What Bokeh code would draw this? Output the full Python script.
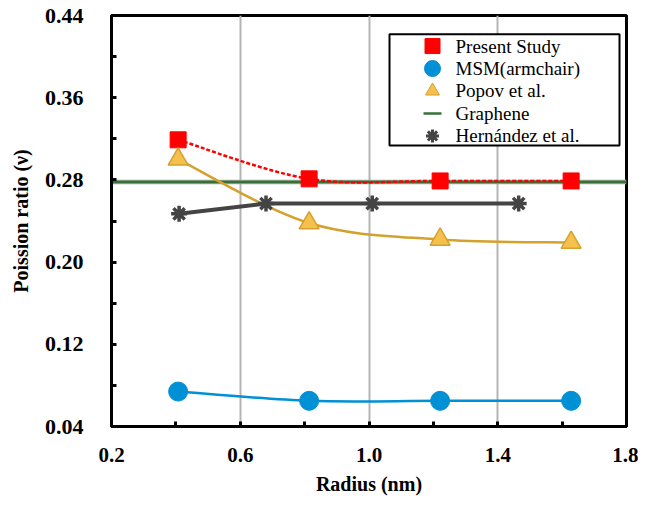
from bokeh.plotting import figure
from bokeh.models import FixedTicker, Range1d
from bokeh.core.properties import value
from bokeh.embed import file_html
from bokeh.resources import INLINE

# ---- data ----
radius = [0.407, 0.814, 1.221, 1.628]
present_study = [0.319, 0.281, 0.279, 0.279]
msm_armchair = [0.074, 0.065, 0.065, 0.065]
popov = [0.300, 0.238, 0.222, 0.219]
hernandez_x = [0.41, 0.68, 1.01, 1.465]
hernandez = [0.247, 0.257, 0.257, 0.257]
graphene = 0.278

legend_labels = ["Present Study", "MSM(armchair)", "Popov et al.", "Graphene", "Hernández et al."]

x_ticks = [0.2, 0.6, 1.0, 1.4, 1.8]
x_minor = [0.4, 0.8, 1.2, 1.6]
x_labels = ["0.2", "0.6", "1.0", "1.4", "1.8"]
y_ticks = [0.04, 0.12, 0.20, 0.28, 0.36, 0.44]
y_minor = [0.08, 0.16, 0.24, 0.32, 0.40]
y_labels = ["0.04", "0.12", "0.20", "0.28", "0.36", "0.44"]

FONT = "Liberation Serif"
RED, BLUE, GOLD_F, GOLD_L, GREEN, GREY = "#ff0000", "#0090d6", "#f5c04e", "#d4a22c", "#367236", "#444444"

W, H = 638, 497
ML, MR, MT, MB = 111, 12, 15, 65
FW, FH = W - ML - MR, H - MT - MB

p = figure(width=W, height=H, output_backend="svg", toolbar_location=None,
           x_range=Range1d(x_ticks[0], x_ticks[-1]), y_range=Range1d(y_ticks[0], y_ticks[-1]),
           min_border_left=ML, min_border_right=MR, min_border_top=MT, min_border_bottom=MB)
p.outline_line_color = "black"
p.outline_line_width = 3
p.background_fill_color = "white"
p.border_fill_color = "white"
p.extra_x_ranges = {"lx": Range1d(0, FW)}
p.extra_y_ranges = {"ly": Range1d(0, FH)}

for ax, ticks, minor, labels, fs in ((p.xaxis[0], x_ticks, x_minor, x_labels, "21px"),
                                     (p.yaxis[0], y_ticks, y_minor, y_labels, "22px")):
    ax.ticker = FixedTicker(ticks=ticks, minor_ticks=minor)
    ax.major_label_overrides = {t: l for t, l in zip(ticks, labels)}
    ax.major_tick_in = 5
    ax.major_tick_out = 0
    ax.minor_tick_in = 5
    ax.minor_tick_out = 0
    ax.major_tick_line_width = 3
    ax.minor_tick_line_width = 3
    ax.axis_line_width = 3
    ax.major_label_text_font = FONT
    ax.major_label_text_font_style = "bold"
    ax.major_label_text_font_size = fs
    ax.major_label_text_color = "black"
    ax.axis_label_text_font = FONT
    ax.axis_label_text_font_style = "bold"
    ax.axis_label_text_font_size = "20px"
    ax.axis_label_text_color = "black"

p.xaxis.axis_label = "Radius (nm)"
p.yaxis.axis_label = "Poission ratio (ν)"
p.xaxis.major_label_standoff = 21
p.yaxis.major_label_standoff = 28
p.xaxis.axis_label_standoff = 8
p.yaxis.axis_label_standoff = 10

p.xgrid.grid_line_color = "#b4b4b4"
p.xgrid.grid_line_width = 2
p.ygrid.grid_line_color = None


def smooth(xs, ys):
    """Excel-like smoothed bezier segments through the data points."""
    n = len(xs)
    out = {k: [] for k in ("x0", "y0", "x1", "y1", "cx0", "cy0", "cx1", "cy1")}
    for i in range(n - 1):
        im = max(i - 1, 0)
        ip2 = min(i + 2, n - 1)
        out["x0"].append(xs[i]); out["y0"].append(ys[i])
        out["x1"].append(xs[i + 1]); out["y1"].append(ys[i + 1])
        out["cx0"].append(xs[i] + (xs[i + 1] - xs[im]) / 6)
        out["cy0"].append(ys[i] + (ys[i + 1] - ys[im]) / 6)
        out["cx1"].append(xs[i + 1] - (xs[ip2] - xs[i]) / 6)
        out["cy1"].append(ys[i + 1] - (ys[ip2] - ys[i]) / 6)
    return out


# graphene reference line
p.line(x=[x_ticks[0], x_ticks[-1]], y=[graphene, graphene], line_color="#9aa89a", line_width=4.5)
p.line(x=[x_ticks[0], x_ticks[-1]], y=[graphene, graphene], line_color=GREEN, line_width=2.5)

# Present study
p.bezier(**smooth(radius, present_study), line_color=RED, line_width=2.5, line_dash="4 2")
p.scatter(radius, present_study, marker="square", size=16, fill_color=RED, line_color=RED)

# MSM
p.bezier(**smooth(radius, msm_armchair), line_color=BLUE, line_width=2.5)
p.scatter(radius, msm_armchair, marker="circle", size=19, fill_color=BLUE, line_color=BLUE)

# Popov
p.bezier(**smooth(radius, popov), line_color=GOLD_L, line_width=2.5)
p.scatter(radius, popov, marker="triangle", size=20, fill_color=GOLD_F, line_color=GOLD_L, line_width=1.5)

# Hernandez
p.line(hernandez_x, hernandez, line_color=GREY, line_width=4)
p.scatter(hernandez_x, hernandez, marker="asterisk", size=16, line_color=GREY, line_width=3.5)

# ---- legend (drawn in frame pixel coordinates) ----
LX0, LX1, LY0, LY1 = 278, 508, FH - 132, FH - 19
p.quad(left=[LX0], right=[LX1], bottom=[LY0], top=[LY1], fill_color="white",
       line_color="black", line_width=2, x_range_name="lx", y_range_name="ly")
row_y = [LY1 - 12 - 22.8 * i for i in range(len(legend_labels))]
gx = LX0 + 43
p.scatter([gx], [row_y[0]], marker="square", size=15, fill_color=RED, line_color=RED,
          x_range_name="lx", y_range_name="ly")
p.scatter([gx], [row_y[1]], marker="circle", size=16, fill_color=BLUE, line_color=BLUE,
          x_range_name="lx", y_range_name="ly")
p.scatter([gx], [row_y[2]], marker="triangle", size=14, fill_color=GOLD_F, line_color=GOLD_L,
          x_range_name="lx", y_range_name="ly")
p.segment(x0=[gx - 9], x1=[gx + 9], y0=[row_y[3]], y1=[row_y[3]], line_color=GREEN, line_width=2.5,
          x_range_name="lx", y_range_name="ly")
p.scatter([gx], [row_y[4]], marker="asterisk", size=13, line_color=GREY, line_width=3,
          x_range_name="lx", y_range_name="ly")
p.text(x=[LX0 + 66] * len(legend_labels), y=row_y, text=legend_labels,
       text_font=value(FONT), text_font_size="19px", text_color="black",
       text_baseline="middle", text_align="left", x_range_name="lx", y_range_name="ly")

open("out.html", "w").write(file_html(p, INLINE))
